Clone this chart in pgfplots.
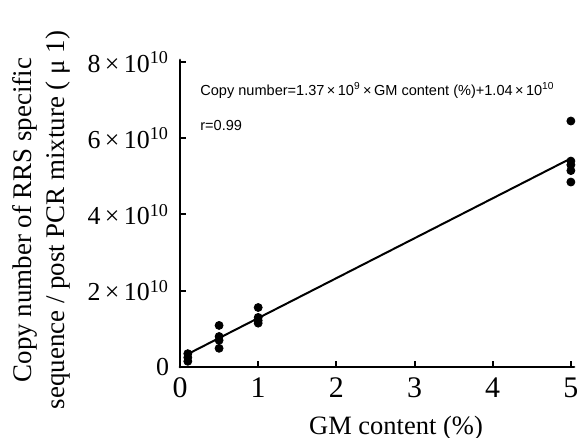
\documentclass[border=0pt]{standalone}
\usepackage{pgfplots}
\pgfplotsset{compat=1.18}
\usepackage{fontspec}
\setmainfont{Liberation Serif}
\newfontfamily\eqfont{Liberation Sans}
\newcommand{\tx}{\,×\,}
\begin{document}
\begin{tikzpicture}[x=1bp,y=1bp]
\useasboundingbox (0,0) rectangle (289.5,219);
\begin{axis}[
  at={(90bp,35.5bp)}, anchor=south west,
  scale only axis, width=197bp, height=153.5bp,
  xmin=0, xmax=5.04, ymin=0, ymax=8.05e10,
  axis lines=left, axis line style={-, line width=1.5pt, line cap=round},
  xtick={0,1,2,3,4,5}, ytick={0,2e10,4e10,6e10,8e10},
  yticklabels={0,2\tx10\textsuperscript{10},4\tx10\textsuperscript{10},6\tx10\textsuperscript{10},8\tx10\textsuperscript{10}},
  xticklabels={0,1,2,3,4,5},
  tick align=inside, major tick length=3bp,
  tick style={line width=1pt, black},
  x tick label style={font=\fontsize{15}{15}\selectfont, yshift=-2bp},
  y tick label style={font=\fontsize{13}{13}\selectfont, xshift=-2bp},
  scaled y ticks=false,
  clip=false,
]
\addplot[only marks, mark=*, mark size=2bp, black] coordinates {
 (0.1,0.15e10) (0.1,0.25e10) (0.1,0.35e10)
 (0.5,1.09e10) (0.5,0.80e10) (0.5,0.70e10) (0.5,0.49e10)
 (1,1.56e10) (1,1.30e10) (1,1.22e10) (1,1.15e10)
 (5,6.45e10) (5,5.40e10) (5,5.30e10) (5,5.15e10) (5,4.85e10)
};
\addplot[black, line width=1pt] coordinates {(0.1,0.34e10) (5,5.47e10)};
\end{axis}
\node[anchor=west, inner sep=0, font=\eqfont\fontsize{7.3}{8}\selectfont] at (100,174) {Copy number=1.37\,×\,10\textsuperscript{9}\,×\,GM content (\%)+1.04\,×\,10\textsuperscript{10}};
\node[anchor=west, inner sep=0, font=\eqfont\fontsize{7.3}{8}\selectfont] at (100,156.5) {r=0.99};
\node[rotate=90, align=center, font=\fontsize{13.5}{16.5}\selectfont] at (20.5,109) {Copy number of RRS specific\\ sequence / post PCR mixture ( μ 1)};
\node[font=\fontsize{13.3}{14}\selectfont] at (198,5) {GM content (\%)};
\end{tikzpicture}
\end{document}
